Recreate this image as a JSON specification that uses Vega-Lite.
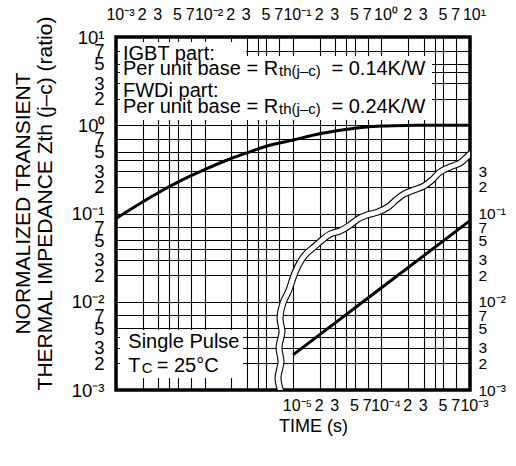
{
  "$schema": "https://vega.github.io/schema/vega-lite/v6.json",
  "width": 354,
  "height": 353,
  "autosize": {"type": "none"},
  "padding": {"left": 116, "top": 37, "right": 46, "bottom": 76},
  "background": "white",
  "config": {
    "font": "Liberation Sans",
    "view": {"stroke": "black", "strokeWidth": 3.5},
    "axis": {
      "ticks": false, "tickSize": 0, "domain": false, "grid": false,
      "labelColor": "black", "titleColor": "black",
      "labelFont": "Liberation Sans", "titleFont": "Liberation Sans",
      "titleFontWeight": "normal", "labelOverlap": false, "labelFlush": false, "labelBound": false
    }
  },
  "datasets": {
    "igbt": [
      {"t": 0.001, "z": 0.088}, {"t": 0.002, "z": 0.135}, {"t": 0.003, "z": 0.172},
      {"t": 0.005, "z": 0.227}, {"t": 0.01, "z": 0.314}, {"t": 0.02, "z": 0.42},
      {"t": 0.03, "z": 0.486}, {"t": 0.05, "z": 0.578}, {"t": 0.1, "z": 0.68},
      {"t": 0.2, "z": 0.8}, {"t": 0.5, "z": 0.925}, {"t": 1, "z": 0.98},
      {"t": 2, "z": 0.995}, {"t": 5, "z": 1.0}, {"t": 10, "z": 1.0}
    ],
    "fwd": [
      {"t": 0.00001, "z": 0.0025}, {"t": 0.0001, "z": 0.0144}, {"t": 0.001, "z": 0.083}
    ],
    "wave": [
      {"i": 0, "t": 0.07318, "z": 0.000949}, {"i": 1, "t": 0.06768, "z": 0.001368},
      {"i": 2, "t": 0.07318, "z": 0.002077}, {"i": 3, "t": 0.06946, "z": 0.003071},
      {"i": 4, "t": 0.07511, "z": 0.004542}, {"i": 5, "t": 0.0713, "z": 0.006544},
      {"i": 6, "t": 0.07709, "z": 0.009678}, {"i": 7, "t": 0.09012, "z": 0.01358},
      {"i": 8, "t": 0.1, "z": 0.01858}, {"i": 9, "t": 0.1139, "z": 0.02542},
      {"i": 10, "t": 0.1367, "z": 0.03386}, {"i": 11, "t": 0.1727, "z": 0.04173},
      {"i": 12, "t": 0.2127, "z": 0.05008}, {"i": 13, "t": 0.2619, "z": 0.05857},
      {"i": 14, "t": 0.3398, "z": 0.06334}, {"i": 15, "t": 0.4405, "z": 0.07408},
      {"i": 16, "t": 0.5427, "z": 0.08664}, {"i": 17, "t": 0.686, "z": 0.09616},
      {"i": 18, "t": 0.9131, "z": 0.104}, {"i": 19, "t": 1.184, "z": 0.1185},
      {"i": 20, "t": 1.458, "z": 0.1422}, {"i": 21, "t": 1.796, "z": 0.1663},
      {"i": 22, "t": 2.329, "z": 0.1846}, {"i": 23, "t": 3.021, "z": 0.2049},
      {"i": 24, "t": 3.721, "z": 0.2396}, {"i": 25, "t": 4.581, "z": 0.2953},
      {"i": 26, "t": 5.943, "z": 0.3364}, {"i": 27, "t": 7.709, "z": 0.3734},
      {"i": 28, "t": 9.493, "z": 0.4482}, {"i": 29, "t": 11.69, "z": 0.5381}
    ],
    "boxes": [
      {"t1": 0.00111, "t2": 0.02944, "z1": 8.777, "z2": 5.781},
      {"t1": 0.00111, "t2": 3.721, "z1": 6.091, "z2": 1.147},
      {"t1": 0.00111, "t2": 0.02723, "z1": 0.004785, "z2": 0.001368}
    ],
    "bigtext": [
      {"label": "IGBT part:", "t": 0.0012, "z": 5.49},
      {"label": "Per unit base = R", "t": 0.0012, "z": 3.71},
      {"label": "= 0.14K/W", "t": 0.272, "z": 3.71},
      {"label": "FWDi part:", "t": 0.0012, "z": 2.107},
      {"label": "Per unit base = R", "t": 0.0012, "z": 1.388},
      {"label": "= 0.24K/W", "t": 0.272, "z": 1.388},
      {"label": "Single Pulse", "t": 0.001377, "z": 0.00297},
      {"label": "T", "t": 0.001377, "z": 0.00161},
      {"label": "= 25°C", "t": 0.002884, "z": 0.00161}
    ],
    "smalltext": [
      {"label": "th(j–c)", "t": 0.0695, "z": 3.615},
      {"label": "th(j–c)", "t": 0.0695, "z": 1.352},
      {"label": "C", "t": 0.001952, "z": 0.00157}
    ]
  },
  "layer": [
    {
      "resolve": {"axis": {"x": "independent", "y": "independent"}},
      "layer": [
        {
          "data": {"name": "boxes"},
          "mark": {"type": "rect", "fill": "white", "strokeWidth": 0},
          "encoding": {
            "x": {"field": "t1", "type": "quantitative",
              "scale": {"type": "log", "domain": [0.001, 10], "nice": false},
              "axis": {"orient": "bottom", "grid": true, "labels": false, "ticks": false, "domain": false, "title": null,
                "values": [0.001,0.002,0.003,0.004,0.005,0.007,0.01,0.02,0.03,0.04,0.05,0.07,0.1,0.2,0.3,0.4,0.5,0.7,1,2,3,4,5,7,10],
                "gridColor": "black", "gridWidth": 1.1, "gridOpacity": 1}},
            "x2": {"field": "t2"},
            "y": {"field": "z1", "type": "quantitative",
              "scale": {"type": "log", "domain": [0.001, 10], "nice": false},
              "axis": {"orient": "left", "grid": true, "labels": false, "ticks": false, "domain": false, "title": null,
                "values": [0.001,0.002,0.003,0.004,0.005,0.007,0.01,0.02,0.03,0.04,0.05,0.07,0.1,0.2,0.3,0.4,0.5,0.7,1,2,3,4,5,7,10],
                "gridColor": "black", "gridWidth": 1.1, "gridOpacity": 1}},
            "y2": {"field": "z2"}
          }
        },
        {
          "data": {"name": "wave"},
          "mark": {"type": "line", "color": "black", "strokeWidth": 7, "interpolate": "catmull-rom", "clip": true},
          "encoding": {
            "x": {"field": "t", "type": "quantitative", "scale": {"type": "log", "domain": [0.001, 10], "nice": false}, "axis": null},
            "y": {"field": "z", "type": "quantitative", "scale": {"type": "log", "domain": [0.001, 10], "nice": false}, "axis": null},
            "order": {"field": "i", "type": "quantitative"}
          }
        },
        {
          "data": {"name": "wave"},
          "mark": {"type": "line", "color": "white", "strokeWidth": 4.8, "interpolate": "catmull-rom", "clip": true},
          "encoding": {
            "x": {"field": "t", "type": "quantitative", "scale": {"type": "log", "domain": [0.001, 10], "nice": false}, "axis": null},
            "y": {"field": "z", "type": "quantitative", "scale": {"type": "log", "domain": [0.001, 10], "nice": false},
              "axis": {"orient": "right", "title": null,
                "values": [0.001,0.002,0.003,0.005,0.007,0.01,0.02,0.03,0.05,0.07,0.1,0.2,0.3],
                "labelExpr": "abs(log(datum.value)/LN10 - round(log(datum.value)/LN10)) < 0.001 ? '10' + (round(log(datum.value)/LN10) < 0 ? '⁻' : '') + substring('⁰¹²³⁴⁵⁶⁷⁸⁹', abs(round(log(datum.value)/LN10)), abs(round(log(datum.value)/LN10)) + 1) : format(datum.value / pow(10, floor(log(datum.value)/LN10 + 0.001)), '.0f')",
                "labelFontSize": 15.5, "labelPadding": 8, "labelAlign": "left", "labelBaseline": "middle"}},
            "order": {"field": "i", "type": "quantitative"}
          }
        },
        {
          "data": {"name": "igbt"},
          "mark": {"type": "line", "color": "black", "strokeWidth": 3, "interpolate": "monotone"},
          "encoding": {
            "x": {"field": "t", "type": "quantitative", "scale": {"type": "log", "domain": [0.001, 10], "nice": false},
              "axis": {"orient": "top", "title": null,
                "values": [0.001,0.002,0.003,0.005,0.007,0.01,0.02,0.03,0.05,0.07,0.1,0.2,0.3,0.5,0.7,1,2,3,5,7,10],
                "labelExpr": "abs(log(datum.value)/LN10 - round(log(datum.value)/LN10)) < 0.001 ? '10' + (round(log(datum.value)/LN10) < 0 ? '⁻' : '') + substring('⁰¹²³⁴⁵⁶⁷⁸⁹', abs(round(log(datum.value)/LN10)), abs(round(log(datum.value)/LN10)) + 1) : format(datum.value / pow(10, floor(log(datum.value)/LN10 + 0.001)), '.0f')",
                "labelFontSize": 16, "labelPadding": 18, "labelBaseline": "alphabetic",
                "labelOffset": {"condition": {"test": "abs(log(datum.value)/LN10 - round(log(datum.value)/LN10)) < 0.001", "value": 4}, "value": -1}}},
            "y": {"field": "z", "type": "quantitative", "scale": {"type": "log", "domain": [0.001, 10], "nice": false},
              "axis": {"orient": "left",
                "values": [0.001,0.002,0.003,0.005,0.007,0.01,0.02,0.03,0.05,0.07,0.1,0.2,0.3,0.5,0.7,1,2,3,5,7,10],
                "labelExpr": "abs(log(datum.value)/LN10 - round(log(datum.value)/LN10)) < 0.001 ? '10' + (round(log(datum.value)/LN10) < 0 ? '⁻' : '') + substring('⁰¹²³⁴⁵⁶⁷⁸⁹', abs(round(log(datum.value)/LN10)), abs(round(log(datum.value)/LN10)) + 1) : format(datum.value / pow(10, floor(log(datum.value)/LN10 + 0.001)), '.0f')",
                "labelFontSize": 18.5, "labelPadding": 12, "labelAlign": "right", "labelBaseline": "middle",
                "title": ["NORMALIZED TRANSIENT", "THERMAL IMPEDANCE  Zth (j–c) (ratio)"],
                "titleFontSize": 21, "titleLineHeight": 22, "titlePadding": 16, "titleY": 166}}
          }
        },
        {
          "data": {"name": "bigtext"},
          "mark": {"type": "text", "align": "left", "baseline": "alphabetic", "fontSize": 20, "color": "black"},
          "encoding": {
            "x": {"field": "t", "type": "quantitative", "scale": {"type": "log", "domain": [0.001, 10], "nice": false}, "axis": null},
            "y": {"field": "z", "type": "quantitative", "scale": {"type": "log", "domain": [0.001, 10], "nice": false}, "axis": null},
            "text": {"field": "label"}
          }
        },
        {
          "data": {"name": "smalltext"},
          "mark": {"type": "text", "align": "left", "baseline": "alphabetic", "fontSize": 15, "color": "black"},
          "encoding": {
            "x": {"field": "t", "type": "quantitative", "scale": {"type": "log", "domain": [0.001, 10], "nice": false}, "axis": null},
            "y": {"field": "z", "type": "quantitative", "scale": {"type": "log", "domain": [0.001, 10], "nice": false}, "axis": null},
            "text": {"field": "label"}
          }
        }
      ]
    },
    {
      "data": {"name": "fwd"},
      "mark": {"type": "line", "color": "black", "strokeWidth": 3},
      "encoding": {
        "x": {"field": "t", "type": "quantitative", "scale": {"type": "log", "domain": [0.0000001, 0.001], "nice": false},
          "axis": {"orient": "bottom",
            "values": [0.00001,0.00002,0.00003,0.00005,0.00007,0.0001,0.0002,0.0003,0.0005,0.0007,0.001],
            "labelExpr": "abs(log(datum.value)/LN10 - round(log(datum.value)/LN10)) < 0.001 ? '10' + (round(log(datum.value)/LN10) < 0 ? '⁻' : '') + substring('⁰¹²³⁴⁵⁶⁷⁸⁹', abs(round(log(datum.value)/LN10)), abs(round(log(datum.value)/LN10)) + 1) : format(datum.value / pow(10, floor(log(datum.value)/LN10 + 0.001)), '.0f')",
            "labelFontSize": 16, "labelPadding": 20, "labelBaseline": "alphabetic",
            "labelOffset": {"condition": {"test": "abs(log(datum.value)/LN10 - round(log(datum.value)/LN10)) < 0.001", "value": 4}, "value": -1},
            "title": "TIME (s)", "titleFontSize": 18, "titleX": 197, "titlePadding": 4}},
        "y": {"field": "z", "type": "quantitative", "scale": {"type": "log", "domain": [0.001, 10], "nice": false}, "axis": null}
      }
    }
  ],
  "resolve": {"scale": {"x": "independent"}, "axis": {"x": "independent", "y": "independent"}}
}
